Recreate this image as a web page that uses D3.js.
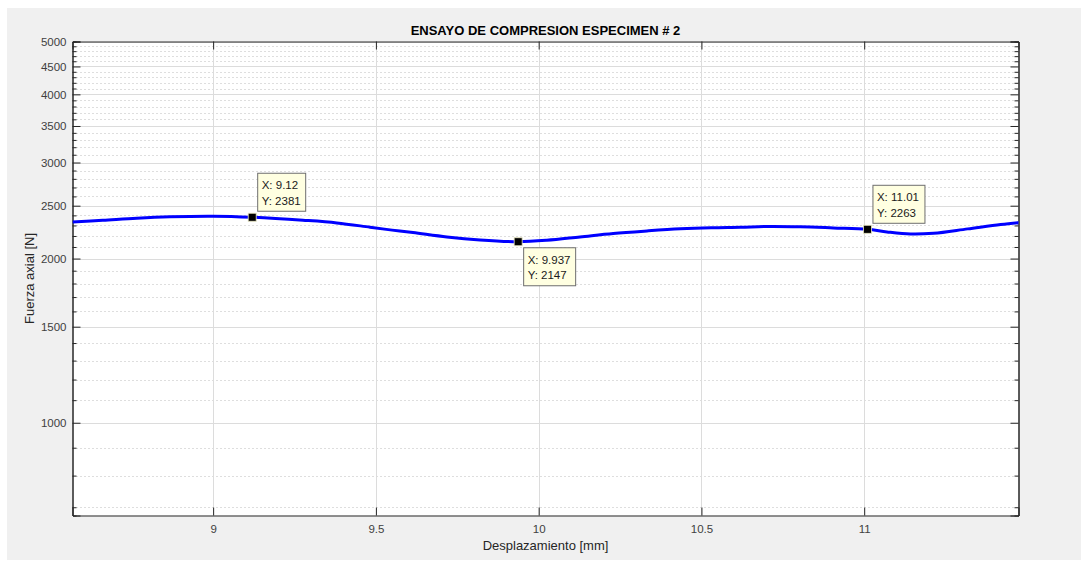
<!DOCTYPE html>
<html>
<head>
<meta charset="utf-8">
<script src="https://cdn.jsdelivr.net/npm/d3@7"></script>
<style>
  body { margin: 0; background: #fff; }
  svg { display: block; font-family: "Liberation Sans", Arial, sans-serif; }
</style>
</head>
<body>
<div id="chart"></div>
<script>
// Desplazamiento [mm] vs Fuerza axial [N]
const displacement = [8.568, 8.661, 8.765, 8.867, 9.0, 9.12, 9.276, 9.380, 9.482, 9.55, 9.614,
  9.718, 9.820, 9.937, 10.025, 10.127, 10.229, 10.333, 10.435, 10.53, 10.62, 10.702, 10.803,
  10.905, 11.01, 11.07, 11.142, 11.213, 11.318, 11.419, 11.477];
const force = [2334, 2351, 2372, 2386, 2392, 2381, 2351, 2325, 2283, 2255, 2232,
  2191, 2163, 2147, 2160, 2191, 2223, 2247, 2267, 2278, 2283, 2290, 2287,
  2276, 2263, 2238, 2218, 2225, 2267, 2309, 2328];

// data tips
const tipX = [9.12, 9.937, 11.01];
const tipY = [2381, 2147, 2263];
const tipLabelX = ['9.12', '9.937', '11.01'];
const tipAbove = [true, false, true];

const xTicks = [9, 9.5, 10, 10.5, 11];
const yTicks = [1000, 1500, 2000, 2500, 3000, 3500, 4000, 4500, 5000];
const yMinorTicks = d3.range(700, 5001, 100).filter(v => !yTicks.includes(v));

const xDomain = [8.568, 11.474];
const yDomain = [676, 5000];

const width = 1081, height = 561;
const box = { left: 72.5, right: 1018.5, top: 41.5, bottom: 515.5 };

const svg = d3.select('#chart').append('svg')
  .attr('width', width)
  .attr('height', height);

svg.append('rect')
  .attr('x', 7).attr('y', 8)
  .attr('width', width - 7).attr('height', height - 9)
  .attr('fill', '#f0f0f0');

const x = d3.scaleLinear().domain(xDomain).range([box.left, box.right]);
const y = d3.scaleLog().domain(yDomain).range([box.bottom, box.top]);

svg.append('rect')
  .attr('x', box.left).attr('y', box.top)
  .attr('width', box.right - box.left).attr('height', box.bottom - box.top)
  .attr('fill', '#fff');

// minor grid (dotted)
svg.append('g').selectAll('line').data(yMinorTicks).join('line')
  .attr('x1', box.left).attr('x2', box.right)
  .attr('y1', d => Math.round(y(d)) + 0.5).attr('y2', d => Math.round(y(d)) + 0.5)
  .attr('stroke', '#bdbdbd').attr('stroke-dasharray', '1,3');

// major grid
svg.append('g').selectAll('line').data(yTicks).join('line')
  .attr('x1', box.left).attr('x2', box.right)
  .attr('y1', d => Math.round(y(d)) + 0.5).attr('y2', d => Math.round(y(d)) + 0.5)
  .attr('stroke', '#dcdcdc');

svg.append('g').selectAll('line').data(xTicks).join('line')
  .attr('y1', box.top).attr('y2', box.bottom)
  .attr('x1', d => Math.round(x(d)) + 0.5).attr('x2', d => Math.round(x(d)) + 0.5)
  .attr('stroke', '#dcdcdc');

// axes
const axisColor = '#262626';
const fmt = d3.format('');

const gx = svg.append('g').attr('transform', `translate(0,${box.bottom})`)
  .call(d3.axisBottom(x).tickValues(xTicks).tickSize(-8).tickPadding(9).tickFormat(fmt));
const gxTop = svg.append('g').attr('transform', `translate(0,${box.top})`)
  .call(d3.axisTop(x).tickValues(xTicks).tickSize(-8).tickFormat(''));

const gy = svg.append('g').attr('transform', `translate(${box.left},0)`)
  .call(d3.axisLeft(y).tickValues(yTicks).tickSize(-8).tickPadding(6).tickFormat(fmt));
const gyRight = svg.append('g').attr('transform', `translate(${box.right},0)`)
  .call(d3.axisRight(y).tickValues(yTicks).tickSize(-8).tickFormat(''));

const gyMinor = svg.append('g').attr('transform', `translate(${box.left},0)`)
  .call(d3.axisLeft(y).tickValues(yMinorTicks).tickSize(-4).tickFormat(''));
const gyMinorRight = svg.append('g').attr('transform', `translate(${box.right},0)`)
  .call(d3.axisRight(y).tickValues(yMinorTicks).tickSize(-4).tickFormat(''));

[gx, gxTop, gy, gyRight, gyMinor, gyMinorRight].forEach(g => {
  g.select('.domain').attr('stroke', axisColor);
  g.selectAll('.tick line').attr('stroke', axisColor);
  g.selectAll('.tick text')
    .attr('fill', '#404040')
    .style('font-size', '11.5px')
    .style('font-family', '"Liberation Sans", Arial, sans-serif');
});

// curve
svg.append('clipPath').attr('id', 'clip')
  .append('rect')
  .attr('x', box.left).attr('y', box.top)
  .attr('width', box.right - box.left).attr('height', box.bottom - box.top);

const line = d3.line()
  .x((d, i) => x(displacement[i]))
  .y(d => y(d))
  .curve(d3.curveCatmullRom.alpha(0.5));

svg.append('path')
  .datum(force)
  .attr('clip-path', 'url(#clip)')
  .attr('d', line)
  .attr('fill', 'none')
  .attr('stroke', '#0000ff')
  .attr('stroke-width', 3);

// data tips
const tips = svg.append('g').selectAll('g').data(tipX).join('g')
  .attr('transform', (d, i) => `translate(${x(d)},${y(tipY[i])})`);

tips.append('rect')
  .attr('x', -4).attr('y', -4)
  .attr('width', 8).attr('height', 8)
  .attr('fill', '#000')
  .attr('stroke', '#e8e6c0')
  .attr('stroke-width', 0.8);

tips.append('rect')
  .attr('x', 5.5)
  .attr('y', (d, i) => tipAbove[i] ? -44 : 6)
  .attr('width', (d, i) => tipLabelX[i].length > 4 ? 52 : 48)
  .attr('height', 38)
  .attr('fill', '#ffffe1')
  .attr('stroke', '#6e6e6e');

tips.append('text')
  .attr('x', 9.5)
  .attr('y', (d, i) => tipAbove[i] ? -28 : 22)
  .style('font-size', '11.5px')
  .attr('fill', '#1a1a1a')
  .text((d, i) => `X: ${tipLabelX[i]}`);

tips.append('text')
  .attr('x', 9.5)
  .attr('y', (d, i) => tipAbove[i] ? -12 : 37)
  .style('font-size', '11.5px')
  .attr('fill', '#1a1a1a')
  .text((d, i) => `Y: ${tipY[i]}`);

// titles
const cx = (box.left + box.right) / 2;

svg.append('text')
  .attr('x', cx).attr('y', 35)
  .attr('text-anchor', 'middle')
  .style('font-size', '13px')
  .style('font-weight', 'bold')
  .attr('fill', '#000')
  .text('ENSAYO DE COMPRESION ESPECIMEN # 2');

svg.append('text')
  .attr('x', cx).attr('y', 550)
  .attr('text-anchor', 'middle')
  .style('font-size', '13px')
  .attr('fill', '#262626')
  .text('Desplazamiento [mm]');

svg.append('text')
  .attr('transform', `translate(34,${(box.top + box.bottom) / 2}) rotate(-90)`)
  .attr('text-anchor', 'middle')
  .style('font-size', '13px')
  .attr('fill', '#262626')
  .text('Fuerza axial [N]');
</script>
</body>
</html>
